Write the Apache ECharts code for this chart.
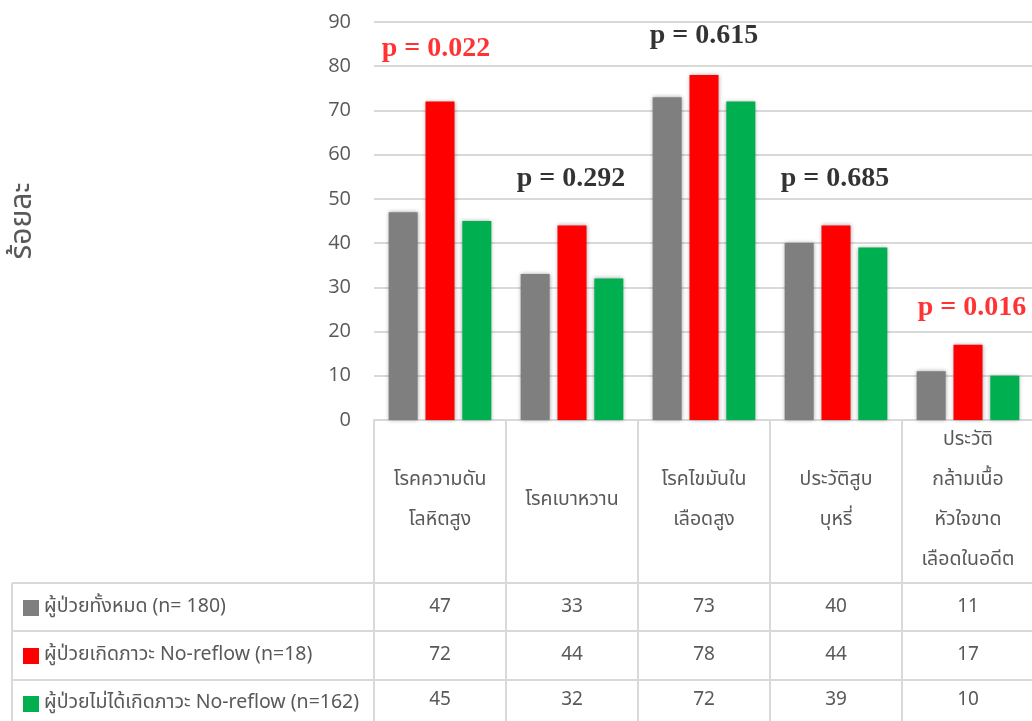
<!DOCTYPE html>
<html>
<head>
<meta charset="utf-8">
<script src="https://cdn.jsdelivr.net/npm/echarts@6/dist/echarts.min.js"></script>
<style>
  html, body { margin: 0; padding: 0; background: #ffffff; }
  #chart { width: 1032px; height: 721px; }
</style>
</head>
<body>
<div id="chart"></div>
<script>
// Risk factors (x categories)
const categories = [
  'โรคความดัน\nโลหิตสูง',
  'โรคเบาหวาน',
  'โรคไขมันใน\nเลือดสูง',
  'ประวัติสูบ\nบุหรี่',
  'ประวัติ\nกล้ามเนื้อ\nหัวใจขาด\nเลือดในอดีต'
];

// Patient groups
const seriesNames = [
  'ผู้ป่วยทั้งหมด (n= 180)',
  'ผู้ป่วยเกิดภาวะ No-reflow (n=18)',
  'ผู้ป่วยไม่ได้เกิดภาวะ No-reflow (n=162)'
];

// Percentages per group
const allPatients = [47, 33, 73, 40, 11];
const noReflow = [72, 44, 78, 44, 17];
const withoutNoReflow = [45, 32, 72, 39, 10];

// p-values per factor and the value-axis height where each is written
const pValues = ['p = 0.022', 'p = 0.292', 'p = 0.615', 'p = 0.685', 'p = 0.016'];
const pLabelLevels = [84, 54.5, 87, 54.5, 25.3];
const pSignificant = [true, false, false, false, true];

// Value axis
const yMin = 0, yMax = 90, yStep = 10;
const yAxisTitle = 'ร้อยละ';

const seriesColors = ['#7f7f7f', '#ff0000', '#00b050'];
const seriesValues = [allPatients, noReflow, withoutNoReflow];

const textGray = '#595959';
const lineGray = '#d9d9d9';
const uiFont = "'Noto Sans Thai', Tahoma, 'Noto Sans', 'DejaVu Sans', sans-serif";

// small horizontal nudges of the p-value text boxes (px)
const pLabelNudge = [-4, -1, 0, -1, 4];

const chart = echarts.init(document.getElementById('chart'), null, { renderer: 'canvas' });

const barSeries = seriesNames.map((name, i) => ({
  name: name,
  type: 'bar',
  data: seriesValues[i],
  barWidth: 29,
  barGap: '27%',
  itemStyle: {
    color: seriesColors[i],
    shadowBlur: 4,
    shadowColor: 'rgba(0,0,0,0.35)'
  },
  emphasis: { disabled: true },
  z: 3
}));

const pSeries = {
  type: 'scatter',
  data: pValues.map((p, i) => ({
    value: [i, pLabelLevels[i]],
    label: {
      color: pSignificant[i] ? '#ff0000' : '#000000',
      offset: [pLabelNudge[i], 0]
    }
  })),
  symbolSize: 0,
  silent: true,
  label: {
    show: true,
    position: 'inside',
    formatter: (p) => pValues[p.dataIndex],
    fontFamily: "'Liberation Serif', 'Times New Roman', serif",
    fontWeight: 'bold',
    fontSize: 28,
    textBorderWidth: 0,
    textBorderColor: 'transparent'
  },
  z: 5
};

// one legend block per table row so the keys sit in the row headers
const legends = seriesNames.map((name, i) => ({
  orient: 'vertical',
  left: 23,
  top: 598 + 48 * i,
  padding: 0,
  itemWidth: 16,
  itemHeight: 16,
  icon: 'rect',
  selectedMode: false,
  data: [name],
  textStyle: { color: textGray, fontSize: 19.5, fontFamily: uiFont }
}));

chart.setOption({
  animation: false,
  backgroundColor: '#ffffff',
  grid: {
    left: 374, top: 22, width: 660, height: 398,
    containLabel: false,
    outerBoundsMode: 'none'
  },
  legend: legends,
  xAxis: {
    type: 'category',
    data: categories,
    axisLine: { show: true, lineStyle: { color: lineGray, width: 2 } },
    axisTick: { show: true, length: 301, lineStyle: { color: lineGray, width: 2 } },
    axisLabel: {
      color: textGray,
      fontSize: 19.5,
      fontFamily: uiFont,
      lineHeight: 40,
      verticalAlign: 'middle',
      margin: 81,
      interval: 0
    }
  },
  yAxis: {
    type: 'value',
    min: yMin,
    max: yMax,
    interval: yStep,
    name: yAxisTitle,
    nameLocation: 'middle',
    nameRotate: 90,
    nameGap: 334,
    nameTextStyle: { color: textGray, fontSize: 30, fontFamily: uiFont },
    axisLine: { show: false },
    axisTick: { show: false },
    axisLabel: { color: textGray, fontSize: 20, fontFamily: "'Open Sans', 'Noto Sans', sans-serif", margin: 23 },
    splitLine: { lineStyle: { color: lineGray, width: 2 } }
  },
  series: barSeries.concat([pSeries])
});

// Data table under the axis: borders and one row of values per group
const rowTops = [583, 631, 680, 721];
const tableLeft = 12;
const tableRight = 1032;
const graphics = [];

rowTops.slice(0, 3).forEach((y) => {
  graphics.push({
    type: 'line',
    shape: { x1: tableLeft, y1: y, x2: tableRight, y2: y },
    style: { stroke: lineGray, lineWidth: 2 },
    silent: true
  });
});
graphics.push({
  type: 'line',
  shape: { x1: tableLeft, y1: rowTops[0], x2: tableLeft, y2: 721 },
  style: { stroke: lineGray, lineWidth: 2 },
  silent: true
});

seriesValues.forEach((vals, r) => {
  const cy = (rowTops[r] + rowTops[r + 1]) / 2 + 1;
  vals.forEach((v, c) => {
    const cx = chart.convertToPixel({ xAxisIndex: 0 }, c);
    graphics.push({
      type: 'text',
      x: cx,
      y: cy,
      style: {
        text: String(v),
        fill: textGray,
        fontSize: 19,
        fontFamily: uiFont,
        align: 'center',
        verticalAlign: 'middle'
      },
      silent: true
    });
  });
});

chart.setOption({ graphic: graphics });
</script>
</body>
</html>
